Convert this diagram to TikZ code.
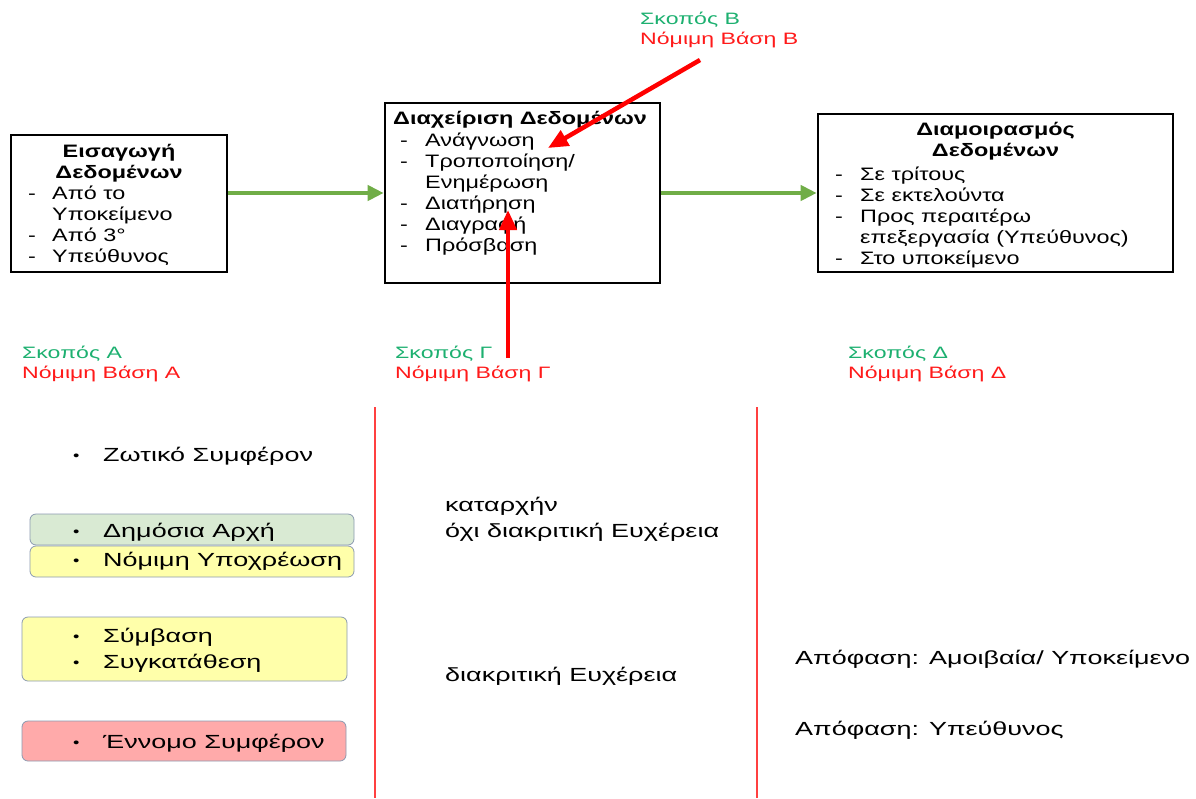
\documentclass[tikz,border=0pt]{standalone}
\usepackage{fontspec}
\setmainfont{Liberation Sans}[FakeStretch=1.3]
\newfontfamily\lblfont{Liberation Sans}[FakeStretch=1.4]
\newfontfamily\bodyfont{Liberation Sans}[FakeStretch=1.42]
\usetikzlibrary{arrows.meta}
\definecolor{flowgreen}{HTML}{70AD47}
\definecolor{purposegreen}{HTML}{1DB070}
\definecolor{basisred}{HTML}{FF1A1A}
\definecolor{divred}{HTML}{FF4040}
\definecolor{pubfill}{HTML}{D9EAD3}
\definecolor{yelfill}{HTML}{FFFFAA}
\definecolor{redfill}{HTML}{FFAAAA}
\definecolor{pillborder}{HTML}{8A9AB0}
\tikzset{
  stagebox/.style={draw=black, line width=2.6pt, inner sep=0pt},
  txt/.style={anchor=base west, inner sep=0pt, font=\fontsize{18}{21}\selectfont},
  btxt/.style={txt, font=\fontsize{18}{21}\selectfont\bfseries},
  body/.style={anchor=base west, inner sep=0pt, font=\bodyfont\fontsize{19}{22}\selectfont},
  lbl/.style={anchor=base west, inner sep=0pt, font=\lblfont\fontsize{16.5}{20}\selectfont},
  purpose/.style={lbl, text=purposegreen},
  basis/.style={lbl, text=basisred},
  flow/.style={draw=flowgreen, line width=4pt, -{Triangle[length=16pt,width=15pt]}},
  redarrow/.style={draw=red, line width=4.5pt, -{Triangle[length=20pt,width=17pt]}},
  divider/.style={draw=divred, line width=2pt},
  pill/.style={draw=pillborder, line width=0.8pt, rounded corners=6pt},
  bul/.style={anchor=base west, inner sep=0pt, font=\fontsize{14}{16}\selectfont},
}
\begin{document}
\begin{tikzpicture}[x=1pt,y=-1pt]
\useasboundingbox (0,0) rectangle (1196,798);

% --- three processing stages
\node[stagebox, minimum width=216pt, minimum height=137pt] (collect) at (119,203.5) {};
\node[stagebox, minimum width=275pt, minimum height=180pt] (manage) at (522.5,193) {};
\node[stagebox, minimum width=355pt, minimum height=158pt] (share) at (995.5,193) {};

% collection box text
\node[btxt, anchor=base] (c1) at (119,157) {Εισαγωγή};
\node[btxt, anchor=base] (c2) at (119,178) {Δεδομένων};
\node[txt] (cd1) at (28,199) {-};
\node[txt] (ci1) at (52,199) {Από το};
\node[txt] (ci2) at (52,220) {Υποκείμενο};
\node[txt] (cd3) at (28,241) {-};
\node[txt] (ci3) at (52,241) {Από 3°};
\node[txt] (cd4) at (28,262) {-};
\node[txt] (ci4) at (52,262) {Υπεύθυνος};

% management box text
\node[btxt] (m0) at (393,124) {Διαχείριση Δεδομένων};
\node[txt] (md1) at (400,146) {-};
\node[txt] (mi1) at (425,146) {Ανάγνωση};
\node[txt] (md2) at (400,167) {-};
\node[txt] (mi2) at (425,167) {Τροποποίηση/};
\node[txt] (mi2b) at (425,188) {Ενημέρωση};
\node[txt] (md3) at (400,209) {-};
\node[txt] (mi3) at (425,209) {Διατήρηση};
\node[txt] (md4) at (400,230) {-};
\node[txt] (mi4) at (425,230) {Διαγραφή};
\node[txt] (md5) at (400,251) {-};
\node[txt] (mi5) at (425,251) {Πρόσβαση};

% sharing box text
\node[btxt, anchor=base] (s1) at (995.5,135) {Διαμοιρασμός};
\node[btxt, anchor=base] (s2) at (995.5,156) {Δεδομένων};
\node[txt] (sd1) at (835,180) {-};
\node[txt] (si1) at (860,180) {Σε τρίτους};
\node[txt] (sd2) at (835,201) {-};
\node[txt] (si2) at (860,201) {Σε εκτελούντα};
\node[txt] (sd3) at (835,222) {-};
\node[txt] (si3) at (860,222) {Προς περαιτέρω};
\node[txt] (si3b) at (860,243) {επεξεργασία (Υπεύθυνος)};
\node[txt] (sd4) at (835,264) {-};
\node[txt] (si4) at (860,264) {Στο υποκείμενο};

% flow between stages
\draw[flow] (collect.east |- manage.west) -- (manage.west);
\draw[flow] (manage.east) -- (share.west);

% purpose / legal basis labels
\node[purpose] (pB) at (640,24) {Σκοπός Β};
\node[basis] (bB) at (640,44) {Νόμιμη Βάση Β};
\node[purpose] (pA) at (22,358) {Σκοπός Α};
\node[basis] (bA) at (22,378) {Νόμιμη Βάση Α};
\node[purpose] (pG) at (395,358) {Σκοπός Γ};
\node[basis] (bG) at (395,378) {Νόμιμη Βάση Γ};
\node[purpose] (pD) at (848,358) {Σκοπός Δ};
\node[basis] (bD) at (848,378) {Νόμιμη Βάση Δ};

% red pointers into the management stage
\coordinate (bTail) at (700,60);
\coordinate (bTip) at (548,148);
\coordinate (gTail) at (508,358);
\coordinate (gTip) at (508,210);
\draw[redarrow] (bTail) -- (bTip);
\draw[redarrow] (gTail) -- (gTip);

% column dividers
\coordinate (d1t) at (375,407);
\coordinate (d1b) at (375,798);
\coordinate (d2t) at (757,407);
\coordinate (d2b) at (757,798);
\draw[divider] (d1t) -- (d1b);
\draw[divider] (d2t) -- (d2b);

% legal bases
\node[bul] (zb) at (73,460) {•};
\node[body] (zt) at (103,461) {Ζωτικό Συμφέρον};

\node[pill, fill=pubfill, minimum width=324pt, minimum height=31pt] (pub) at (192,529.5) {};
\node[pill, fill=yelfill, minimum width=324pt, minimum height=31pt] (obl) at (192,561.5) {};
\node[bul] (pubb) at (73,536) {•};
\node[body] (pubt) at (103,537) {Δημόσια Αρχή};
\node[bul] (oblb) at (73,565) {•};
\node[body] (oblt) at (103,566) {Νόμιμη Υποχρέωση};

\node[pill, fill=yelfill, minimum width=325pt, minimum height=64pt] (con) at (184.5,649) {};
\node[bul] (con1b) at (73,641) {•};
\node[body] (con1t) at (103,642) {Σύμβαση};
\node[bul] (con2b) at (73,667) {•};
\node[body] (con2t) at (103,668) {Συγκατάθεση};

\node[pill, fill=redfill, minimum width=324pt, minimum height=40pt] (leg) at (184,741) {};
\node[bul] (legb) at (73,747) {•};
\node[body] (legt) at (103,748) {Έννομο Συμφέρον};

% middle column
\node[body] (mid1) at (445,511) {καταρχήν};
\node[body] (mid2) at (445,537) {όχι διακριτική Ευχέρεια};
\node[body] (mid3) at (445,681) {διακριτική Ευχέρεια};

% right column
\node[body] (r1) at (795,664) {Απόφαση: Αμοιβαία/ Υποκείμενο};
\node[body] (r2) at (795,735) {Απόφαση: Υπεύθυνος};
\end{tikzpicture}
\end{document}
